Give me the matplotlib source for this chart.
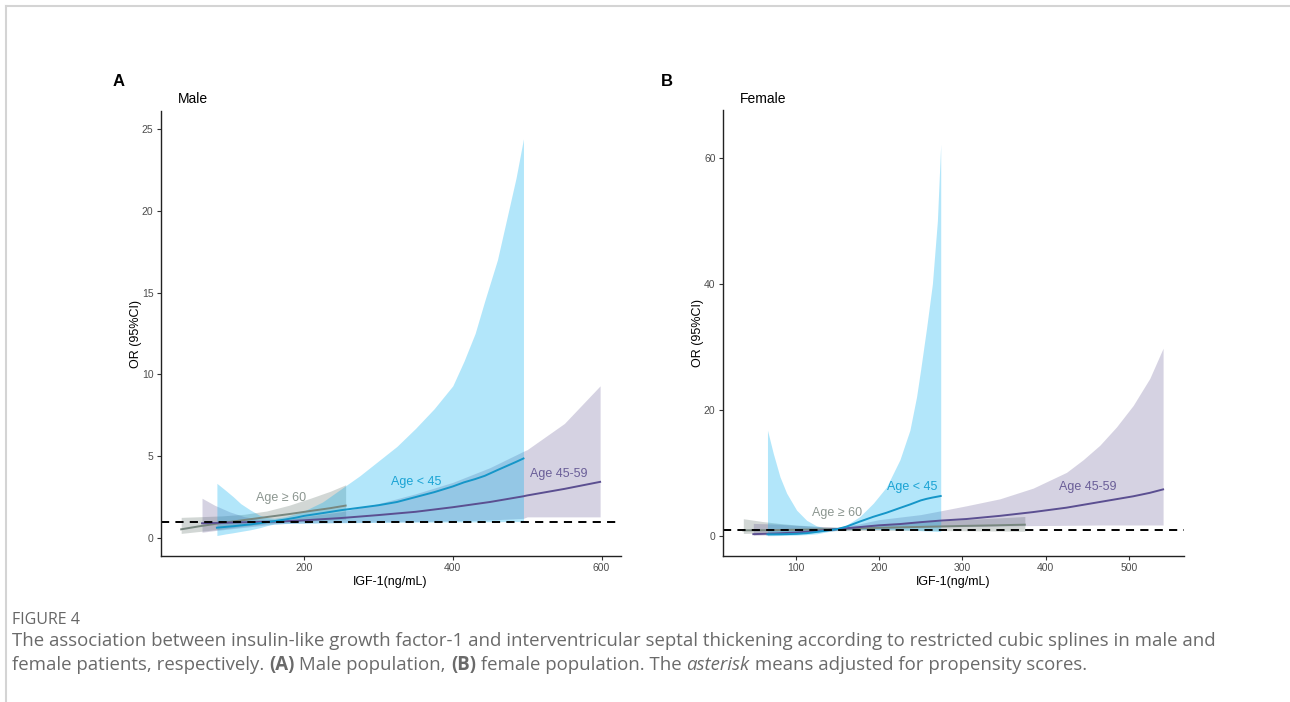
import numpy as np
import matplotlib
matplotlib.use("Agg")
import matplotlib.pyplot as plt
from matplotlib.lines import Line2D

# ---- data (IGF-1 in ng/mL, OR with 95% CI) ----
# Panel A, male
a_young_x = [83, 95, 105, 115, 128, 140, 150, 160, 175, 190, 200, 225, 250, 275, 300,
             325, 350, 375, 400, 415, 430, 443, 460, 475, 485, 495]
a_young_or = [0.63, 0.68, 0.72, 0.77, 0.83, 0.90, 0.97, 1.03, 1.13, 1.25, 1.35, 1.52, 1.70,
              1.85, 2.00, 2.20, 2.50, 2.80, 3.15, 3.40, 3.60, 3.80, 4.15, 4.45, 4.65, 4.86]
a_young_lo = [0.15, 0.25, 0.32, 0.40, 0.50, 0.62, 0.75, 0.85, 0.88, 0.90, 0.90, 0.92, 0.93,
              0.94, 0.95, 0.96, 0.97, 0.97, 0.98, 0.98, 0.98, 0.99, 0.99, 1.00, 1.00, 1.00]
a_young_hi = [3.34, 2.90, 2.52, 2.10, 1.71, 1.40, 1.25, 1.20, 1.30, 1.50, 1.65, 2.20, 3.00,
              3.80, 4.70, 5.60, 6.70, 7.90, 9.30, 10.8, 12.5, 14.5, 17.0, 20.0, 22.0, 24.4]

a_mid_x = [63, 80, 100, 120, 140, 160, 180, 200, 250, 300, 350, 400, 450, 495, 500, 550, 598]
a_mid_or = [0.90, 0.92, 0.94, 0.96, 0.98, 1.00, 1.03, 1.08, 1.22, 1.40, 1.60, 1.88, 2.20,
            2.55, 2.60, 3.00, 3.43]
a_mid_lo = [0.35, 0.45, 0.55, 0.65, 0.75, 0.85, 0.90, 0.92, 0.95, 0.98, 1.00, 1.05, 1.10,
            1.20, 1.29, 1.29, 1.29]
a_mid_hi = [2.43, 2.00, 1.60, 1.30, 1.15, 1.10, 1.15, 1.30, 1.60, 2.10, 2.70, 3.40, 4.30,
            5.30, 5.40, 7.00, 9.30]

a_old_x = [35, 60, 90, 120, 150, 180, 210, 235, 256]
a_old_or = [0.53, 0.72, 0.92, 1.10, 1.28, 1.46, 1.66, 1.82, 1.98]
a_old_lo = [0.28, 0.40, 0.55, 0.72, 0.88, 0.98, 1.05, 1.10, 1.15]
a_old_hi = [1.26, 1.30, 1.35, 1.45, 1.65, 2.00, 2.45, 2.85, 3.25]

# Panel B, female
b_young_x = [66, 73, 81, 89, 101, 113, 125, 141, 150, 161, 177, 193, 209, 225, 237, 245,
             250, 257, 264, 270, 274]
b_young_or = [0.27, 0.27, 0.28, 0.30, 0.35, 0.45, 0.65, 0.95, 1.10, 1.50, 2.30, 3.05, 3.70,
              4.45, 5.00, 5.40, 5.65, 5.90, 6.10, 6.25, 6.35]
b_young_lo = [0.05, 0.06, 0.08, 0.10, 0.14, 0.22, 0.35, 0.75, 0.95, 1.00, 1.05, 1.05, 1.02,
              0.98, 0.93, 0.88, 0.85, 0.80, 0.77, 0.73, 0.70]
b_young_hi = [16.8, 13.1, 9.4, 6.8, 4.1, 2.5, 1.6, 1.1, 1.1, 1.75, 3.1, 5.2, 7.8, 12.1, 16.8,
              22.1, 26.5, 33.0, 40.0, 50.0, 62.2]

b_mid_x = [49, 75, 100, 125, 150, 175, 200, 225, 250, 274, 305, 345, 385, 425, 445, 465,
           485, 505, 525, 541]
b_mid_or = [0.30, 0.40, 0.55, 0.80, 1.10, 1.40, 1.70, 1.90, 2.20, 2.45, 2.70, 3.20, 3.80,
            4.50, 4.95, 5.40, 5.85, 6.30, 6.85, 7.40]
b_mid_lo = [0.10, 0.20, 0.30, 0.60, 0.90, 1.10, 1.20, 1.30, 1.40, 1.45, 1.50, 1.60, 1.65,
            1.70, 1.72, 1.75, 1.75, 1.75, 1.75, 1.75]
b_mid_hi = [2.00, 1.90, 1.70, 1.50, 1.40, 1.90, 2.60, 3.00, 3.40, 4.00, 4.80, 5.90, 7.60,
            10.1, 12.1, 14.4, 17.3, 20.7, 25.0, 29.8]

b_old_x = [37, 60, 80, 100, 125, 150, 200, 250, 300, 340, 375]
b_old_or = [0.90, 0.92, 0.95, 1.00, 1.05, 1.10, 1.30, 1.45, 1.60, 1.70, 1.80]
b_old_lo = [0.40, 0.50, 0.60, 0.70, 0.80, 0.85, 0.90, 0.88, 0.85, 0.80, 0.75]
b_old_hi = [2.75, 2.30, 2.00, 1.75, 1.55, 1.40, 1.80, 2.20, 2.60, 2.85, 3.10]

# label anchors (x, y in data units)
a_labels = {"Age \u2265 60": (169, 2.45), "Age < 45": (351, 3.43), "Age 45-59": (542, 3.9)}
b_labels = {"Age \u2265 60": (149, 3.7), "Age < 45": (240, 7.7), "Age 45-59": (450, 7.8)}

a_yticks = [0, 5, 10, 15, 20, 25]
a_xticks = [200, 400, 600]
b_yticks = [0, 20, 40, 60]
b_xticks = [100, 200, 300, 400, 500]

# colours
c_young, c_young_fill = "#1596c8", "#00aeef"
c_mid, c_mid_fill = "#5b4f91", "#5a4d8c"
c_old, c_old_fill = "#78877f", "#6b7d75"
lab_col = {"Age < 45": "#1aa3d4", "Age 45-59": "#6a5e98", "Age \u2265 60": "#8c9690"}

plt.rcParams["font.family"] = ["Liberation Sans", "DejaVu Sans"]

fig = plt.figure(figsize=(12.9, 7.02), dpi=100)
W, H = 1290, 702


def draw_panel(ax, groups, labels, xlim, ylim, xticks, yticks):
    for x, lo, hi, orv, lc, fc, a in groups:
        ax.fill_between(x, lo, hi, color=fc, alpha=a, linewidth=0)
    for x, lo, hi, orv, lc, fc, a in groups:
        ax.plot(x, orv, color=lc, lw=1.4)
    ax.axhline(1, color="black", lw=1.4, ls=(0, (4.2, 3.2)))
    for txt, (lx, ly) in labels.items():
        ax.text(lx, ly, txt, color=lab_col[txt], fontsize=9, ha="center", va="center")
    ax.set_xlim(*xlim)
    ax.set_ylim(*ylim)
    ax.set_xticks(xticks)
    ax.set_yticks(yticks)
    for s in ["top", "right"]:
        ax.spines[s].set_visible(False)
    for s in ["left", "bottom"]:
        ax.spines[s].set_linewidth(1.0)
        ax.spines[s].set_color("#222222")
    ax.tick_params(length=3, width=0.8, color="#333333", labelcolor="#4d4d4d",
                   labelsize=7.5, pad=2)
    ax.set_xlabel("IGF-1(ng/mL)", fontsize=9, labelpad=2)
    ax.set_ylabel("OR (95%CI)", fontsize=9, labelpad=0)


ax_a = fig.add_axes([160.5 / W, 1 - 556.3 / H, 460 / W, 445.3 / H])
draw_panel(ax_a,
           [(a_old_x, a_old_lo, a_old_hi, a_old_or, c_old, c_old_fill, 0.30),
            (a_mid_x, a_mid_lo, a_mid_hi, a_mid_or, c_mid, c_mid_fill, 0.25),
            (a_young_x, a_young_lo, a_young_hi, a_young_or, c_young, c_young_fill, 0.30)],
           a_labels, (7.2, 625.4), (-1.12, 26.1), a_xticks, a_yticks)

ax_b = fig.add_axes([722.5 / W, 1 - 556 / H, 461 / W, 446 / H])
draw_panel(ax_b,
           [(b_old_x, b_old_lo, b_old_hi, b_old_or, c_old, c_old_fill, 0.30),
            (b_mid_x, b_mid_lo, b_mid_hi, b_mid_or, c_mid, c_mid_fill, 0.25),
            (b_young_x, b_young_lo, b_young_hi, b_young_or, c_young, c_young_fill, 0.30)],
           b_labels, (12, 565.5), (-3.17, 67.6), b_xticks, b_yticks)

# panel letters and titles
fig.text(119 / W, 1 - 81 / H, "A", fontsize=12, fontweight="bold", ha="center", va="center")
fig.text(667 / W, 1 - 81 / H, "B", fontsize=12, fontweight="bold", ha="center", va="center")
fig.text(178 / W, 1 - 99 / H, "Male", fontsize=10, ha="left", va="center")
fig.text(740 / W, 1 - 99 / H, "Female", fontsize=10, ha="left", va="center")

# page frame lines
fig.add_artist(Line2D([6 / W, 1], [1 - 6 / H, 1 - 6 / H], color="#d4d4d4", lw=1.5))
fig.add_artist(Line2D([6 / W, 6 / W], [0, 1 - 6 / H], color="#d4d4d4", lw=1.5))

# caption
cap_font = ["Open Sans", "DejaVu Sans"]
cap_col = "#6a6a6a"
cap_size = 13.4
fig.text(12 / W, 1 - 620 / H, "FIGURE 4", fontsize=11.5, color="#666666",
         family=cap_font, va="center", fontstretch="semi-condensed")
fig.text(12 / W, 1 - 641 / H,
         "The association between insulin-like growth factor-1 and interventricular septal "
         "thickening according to restricted cubic splines in male and",
         fontsize=cap_size, color=cap_col, family=cap_font, va="center")

renderer = fig.canvas.get_renderer()
pieces = [("female patients, respectively. ", "normal", "normal"),
          ("(A)", "bold", "normal"),
          (" Male population, ", "normal", "normal"),
          ("(B)", "bold", "normal"),
          (" female population. The ", "normal", "normal"),
          ("asterisk", "normal", "italic"),
          (" means adjusted for propensity scores.", "normal", "normal")]
xpos = 12
for txt, wt, st in pieces:
    t = fig.text(xpos / W, 1 - 665 / H, txt, fontsize=cap_size, color=cap_col, family=cap_font,
                 va="center", fontweight=wt, fontstyle=st)
    bb = t.get_window_extent(renderer)
    xpos = bb.x1

fig.savefig("out.png", dpi=100)
